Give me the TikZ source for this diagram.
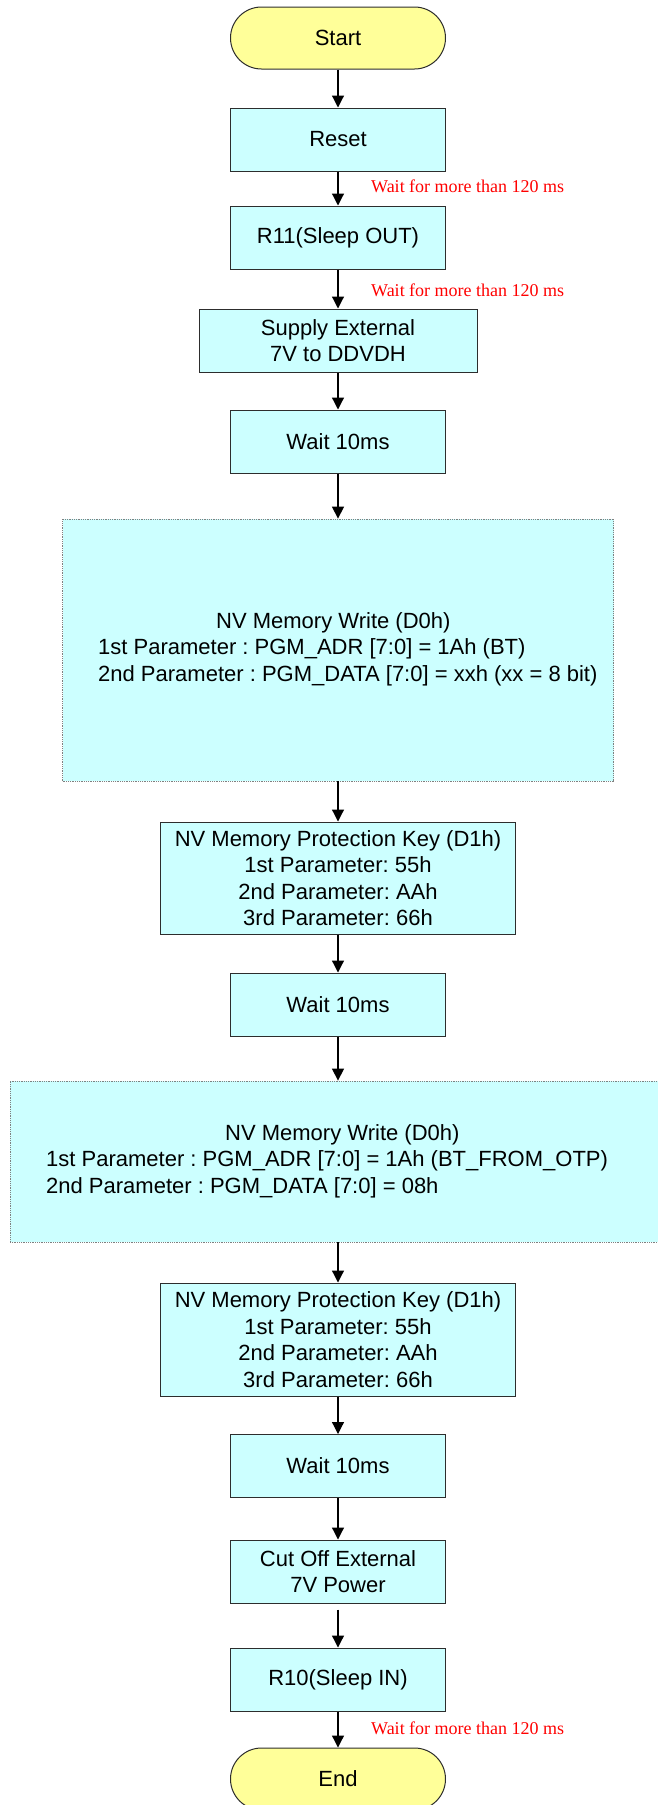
\documentclass[tikz,border=0pt]{standalone}
\usepackage{fontspec}
\setmainfont{Liberation Sans}
\newfontfamily\notefont{Liberation Serif}
\usetikzlibrary{arrows.meta}
\frenchspacing

\definecolor{boxcyan}{RGB}{204,255,255}
\definecolor{termyellow}{RGB}{255,255,153}
\definecolor{edgegray}{RGB}{45,45,45}

\begin{document}
\begin{tikzpicture}[x=1pt, y=-1pt,
  procbox/.style={draw=edgegray, line width=1pt, fill=boxcyan, inner sep=0pt,
    minimum width=215pt, minimum height=63pt, align=center,
    font=\fontsize{22}{26.5}\selectfont},
  termbox/.style={procbox, fill=termyellow, rounded corners=31pt, minimum height=62pt},
  bigbox/.style={draw=gray, densely dotted, line width=0.8pt, fill=boxcyan, inner sep=0pt},
  bigtext/.style={anchor=west, align=left, inner sep=0pt, font=\fontsize{22}{26.5}\selectfont},
  note/.style={anchor=west, inner sep=0pt, text=red, font=\notefont\fontsize{18}{20}\selectfont},
  flow/.style={line width=1.2pt, -{Triangle[length=12pt, width=12pt]}}]

  % Page frame
  \useasboundingbox (0,0) rectangle (657,1805);

  % Start and first steps
  \node[termbox] (start) at (338,38) {Start};
  \node[procbox] (reset) at (338,139.5) {Reset};
  \node[procbox] (r11) at (338,237.5) {R11(Sleep OUT)};
  \node[procbox, minimum width=278pt] (supply) at (338,340.5) {Supply External\\7V to DDVDH};
  \node[procbox] (wait1) at (338,441.5) {Wait 10ms};

  % First NV write
  \node[bigbox, minimum width=551pt, minimum height=262pt] (big1) at (338,650) {};
  \node[bigtext] (big1txt) at (98,649) {\hspace*{118pt}NV Memory Write (D0h)\\
    1st Parameter : PGM\_ADR [7:0] = 1Ah (BT)\\
    2nd Parameter : PGM\_DATA [7:0] = xxh (xx = 8 bit)};

  \node[procbox, minimum width=355pt, minimum height=112pt] (pk1) at (338,878)
    {NV Memory Protection Key (D1h)\\1st Parameter: 55h\\2nd Parameter: AAh\\3rd Parameter: 66h};
  \node[procbox] (wait2) at (338,1004.5) {Wait 10ms};

  % Second NV write
  \node[bigbox, minimum width=656pt, minimum height=161pt] (big2) at (338,1161.5) {};
  \node[bigtext] (big2txt) at (46,1161) {\hspace*{179pt}NV Memory Write (D0h)\\
    1st Parameter : PGM\_ADR [7:0] = 1Ah (BT\_FROM\_OTP)\\
    2nd Parameter : PGM\_DATA [7:0] = 08h};

  \node[procbox, minimum width=355pt, minimum height=113pt] (pk2) at (338,1339.5)
    {NV Memory Protection Key (D1h)\\1st Parameter: 55h\\2nd Parameter: AAh\\3rd Parameter: 66h};
  \node[procbox] (wait3) at (338,1466) {Wait 10ms};
  \node[procbox] (cutoff) at (338,1571.5) {Cut Off External\\7V Power};
  \node[procbox] (r10) at (338,1679.5) {R10(Sleep IN)};
  \node[termbox] (end) at (338,1779) {End};

  % Arrows
  \draw[flow] (start.south) -- (reset.north);
  \draw[flow] (reset.south) -- (r11.north);
  \draw[flow] (r11.south) -- (supply.north);
  \draw[flow] (supply.south) -- (wait1.north);
  \draw[flow] (wait1.south) -- (big1.north);
  \draw[flow] (big1.south) -- (pk1.north);
  \draw[flow] (pk1.south) -- (wait2.north);
  \draw[flow] (wait2.south) -- (big2.north);
  \draw[flow] (big2.south) -- (pk2.north);
  \draw[flow] (pk2.south) -- (wait3.north);
  \draw[flow] (wait3.south) -- (cutoff.north);
  \draw[flow, shorten <=6pt] (cutoff.south) -- (r10.north);
  \draw[flow] (r10.south) -- (end.north);

  % Delay notes
  \node[note] (note1) at (371,186) {Wait for more than 120 ms};
  \node[note] (note2) at (371,290) {Wait for more than 120 ms};
  \node[note] (note3) at (371,1728) {Wait for more than 120 ms};

\end{tikzpicture}
\end{document}
